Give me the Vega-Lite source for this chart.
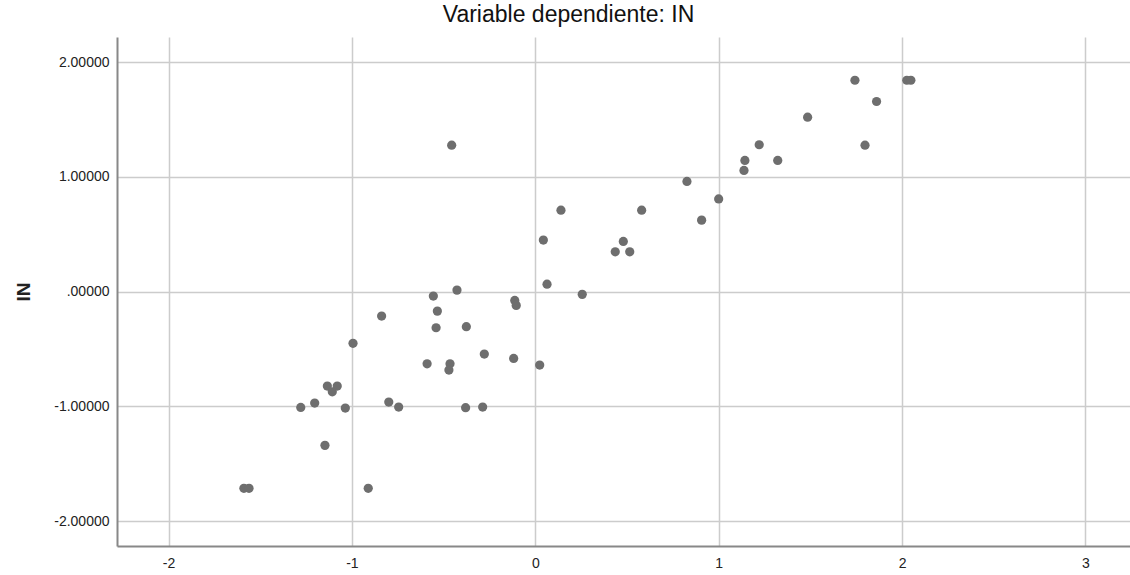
{
  "$schema": "https://vega.github.io/schema/vega-lite/v6.json",
  "width": 1013,
  "height": 509,
  "autosize": {"type": "none"},
  "padding": {"left": 117, "top": 37, "right": 0, "bottom": 29},
  "background": "white",
  "title": {
    "text": "Variable dependiente: IN",
    "font": "Liberation Sans",
    "fontSize": 23,
    "fontWeight": "normal",
    "color": "#111111",
    "anchor": "middle",
    "frame": "group",
    "dx": -55,
    "offset": 10
  },
  "config": {
    "view": {"stroke": null},
    "font": "Liberation Sans"
  },
  "data": {
    "values": [
      {"x": 1.743, "IN": 1.842},
      {"x": 2.026, "IN": 1.842},
      {"x": 2.048, "IN": 1.842},
      {"x": 1.861, "IN": 1.657},
      {"x": 1.485, "IN": 1.520},
      {"x": 1.798, "IN": 1.276},
      {"x": 1.322, "IN": 1.143},
      {"x": 1.221, "IN": 1.280},
      {"x": -0.456, "IN": 1.276},
      {"x": 1.143, "IN": 1.143},
      {"x": 1.138, "IN": 1.056},
      {"x": 0.827, "IN": 0.960},
      {"x": 1.000, "IN": 0.808},
      {"x": 0.907, "IN": 0.623},
      {"x": 0.140, "IN": 0.710},
      {"x": 0.580, "IN": 0.710},
      {"x": 0.044, "IN": 0.449},
      {"x": 0.480, "IN": 0.437},
      {"x": 0.436, "IN": 0.347},
      {"x": 0.515, "IN": 0.347},
      {"x": 0.064, "IN": 0.065},
      {"x": 0.256, "IN": -0.024},
      {"x": -0.427, "IN": 0.013},
      {"x": -0.556, "IN": -0.039},
      {"x": -0.112, "IN": -0.077},
      {"x": -0.104, "IN": -0.120},
      {"x": -0.534, "IN": -0.170},
      {"x": -0.838, "IN": -0.213},
      {"x": -0.541, "IN": -0.315},
      {"x": -0.376, "IN": -0.306},
      {"x": -0.278, "IN": -0.544},
      {"x": -0.590, "IN": -0.629},
      {"x": -0.465, "IN": -0.629},
      {"x": -0.471, "IN": -0.684},
      {"x": -0.118, "IN": -0.582},
      {"x": 0.024, "IN": -0.640},
      {"x": -0.994, "IN": -0.451},
      {"x": -1.134, "IN": -0.823},
      {"x": -1.080, "IN": -0.823},
      {"x": -1.107, "IN": -0.873},
      {"x": -1.279, "IN": -1.009},
      {"x": -1.203, "IN": -0.971},
      {"x": -1.036, "IN": -1.015},
      {"x": -0.799, "IN": -0.963},
      {"x": -0.745, "IN": -1.006},
      {"x": -0.380, "IN": -1.012},
      {"x": -0.287, "IN": -1.006},
      {"x": -1.147, "IN": -1.340},
      {"x": -1.589, "IN": -1.714},
      {"x": -1.561, "IN": -1.714},
      {"x": -0.911, "IN": -1.714}
    ]
  },
  "mark": {"type": "point", "filled": true, "opacity": 1, "color": "#6e6e6e", "size": 85, "shape": "circle"},
  "encoding": {
    "x": {
      "field": "x",
      "type": "quantitative",
      "scale": {"domain": [-2.281, 3.243], "nice": false, "zero": false},
      "axis": {
        "title": null,
        "values": [-2, -1, 0, 1, 2, 3],
        "labelExpr": "'' + datum.value",
        "grid": true,
        "gridColor": "#cccccc",
        "gridWidth": 1.5,
        "ticks": false,
        "domain": true,
        "domainColor": "#888888",
        "domainWidth": 2,
        "labelFont": "Liberation Sans",
        "labelFontSize": 14,
        "labelColor": "#222222",
        "labelPadding": 10
      }
    },
    "y": {
      "field": "IN",
      "type": "quantitative",
      "scale": {"domain": [-2.217, 2.219], "nice": false, "zero": false},
      "axis": {
        "title": "IN",
        "titleFont": "Liberation Sans",
        "titleFontSize": 19,
        "titleFontWeight": "bold",
        "titleColor": "#222222",
        "titlePadding": 20,
        "values": [-2, -1, 0, 1, 2],
        "labelExpr": "datum.value == 0 ? '.00000' : replace(format(datum.value, '.5f'), '\u2212', '-')",
        "grid": true,
        "gridColor": "#cccccc",
        "gridWidth": 1.5,
        "ticks": false,
        "domain": true,
        "domainColor": "#888888",
        "domainWidth": 2,
        "labelFont": "Liberation Sans",
        "labelFontSize": 14,
        "labelColor": "#222222",
        "labelPadding": 8
      }
    }
  }
}
